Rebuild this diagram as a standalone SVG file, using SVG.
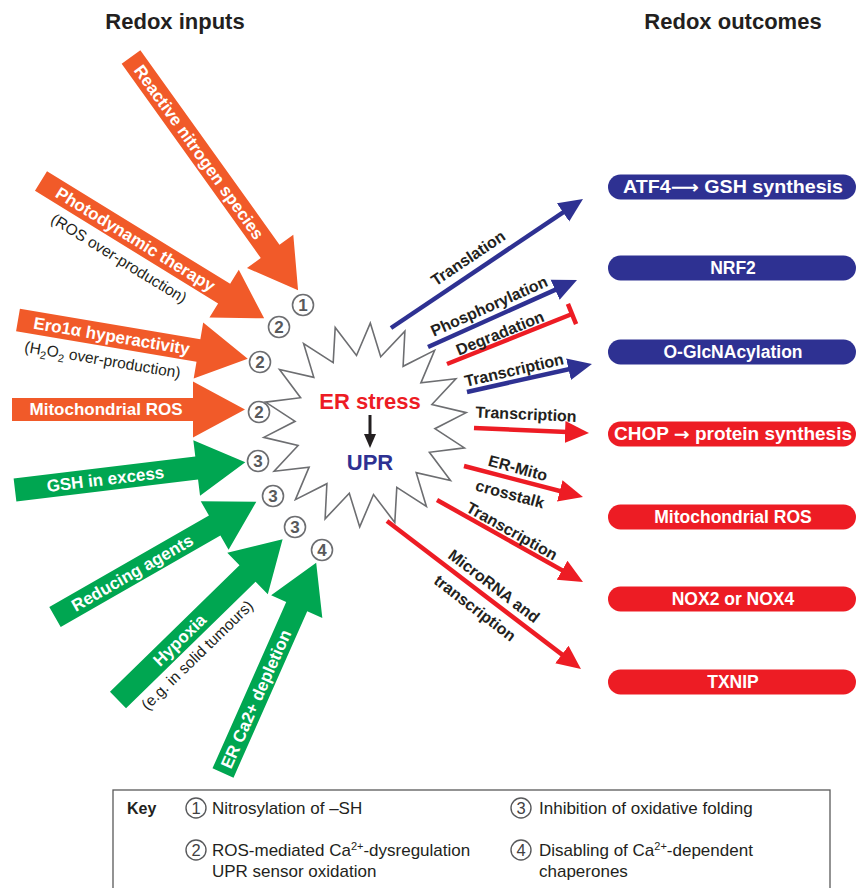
<svg xmlns="http://www.w3.org/2000/svg" width="857" height="888" viewBox="0 0 857 888">
<style>
text{font-family:"Liberation Sans",Arial,sans-serif}
.org{fill:#F15A29}
.grn{fill:#00A651}
.lbl{fill:#fff;font-weight:bold;font-size:17px;text-anchor:middle}
.sub{fill:#231F20;font-size:15.5px;text-anchor:middle}
.title{fill:#231F20;font-weight:bold;font-size:22px;text-anchor:middle}
.num circle{fill:#fff;stroke:#6D6E71;stroke-width:1.6}
.num text{fill:#58595B;font-weight:bold;font-size:17px;text-anchor:middle}
.pillB{fill:#2E3192}
.pillR{fill:#ED1C24}
.ptxt{fill:#fff;font-weight:bold;font-size:17.5px;text-anchor:middle}
.arr{font-family:"DejaVu Sans",sans-serif}
.lnB{stroke:#2E3192;stroke-width:4.5;fill:none}
.lnR{stroke:#ED1C24;stroke-width:4.5;fill:none}
.clbl{fill:#231F20;font-weight:bold;font-size:16px;text-anchor:middle}
.key{fill:#231F20;font-size:17px}
.kn circle{fill:#fff;stroke:#58595B;stroke-width:1.4}
.kn text{fill:#414042;font-size:16.5px;text-anchor:middle}
</style>
<defs>
<marker id="ahB" markerUnits="userSpaceOnUse" markerWidth="24" markerHeight="24" viewBox="0 0 24 24" refX="14" refY="12" orient="auto"><path d="M0,1 L24,12 L0,23 z" fill="#2E3192"/></marker>
<marker id="ahR" markerUnits="userSpaceOnUse" markerWidth="24" markerHeight="24" viewBox="0 0 24 24" refX="14" refY="12" orient="auto"><path d="M0,1 L24,12 L0,23 z" fill="#ED1C24"/></marker>
<marker id="ahK" markerUnits="userSpaceOnUse" markerWidth="14" markerHeight="14" viewBox="0 0 14 14" refX="7" refY="7" orient="auto"><path d="M0,1 L14,7 L0,13 z" fill="#231F20"/></marker>
</defs>

<text class="title" x="175" y="29">Redox inputs</text>
<text class="title" x="733" y="29">Redox outcomes</text>

<!-- input arrows -->
<g id="in-rns" transform="translate(131,57) rotate(54.4)">
<polygon class="org" points="0,-11.5 239,-11.5 239,-28.5 287,0 239,28.5 239,11.5 0,11.5"/>
<text class="lbl" x="117" y="0" dy="0.35em">Reactive nitrogen species</text>
</g>
<g id="in-pdt" transform="translate(41,181) rotate(31.6)">
<polygon class="org" points="0,-11.5 215,-11.5 215,-28 262,0 215,28 215,11.5 0,11.5"/>
<text class="lbl" x="111" y="0" dy="0.35em">Photodynamic therapy</text>
<text class="sub" x="107" y="25" dy="0.35em">(ROS over-production)</text>
</g>
<g id="in-ero" transform="translate(18,320) rotate(9.6)">
<polygon class="org" points="0,-11.5 183,-11.5 183,-28.5 233,0 183,28.5 183,11.5 0,11.5"/>
<text class="lbl" x="95" y="0" dy="0.35em">Ero1α hyperactivity</text>
<text class="sub" x="90" y="25" dy="0.35em">(H<tspan font-size="11" dy="4">2</tspan><tspan dy="-4">O</tspan><tspan font-size="11" dy="4">2</tspan><tspan dy="-4"> over-production)</tspan></text>
</g>
<g id="in-mros" transform="translate(12,409.5)">
<polygon class="org" points="0,-11.5 181,-11.5 181,-28 233,0 181,28 181,11.5 0,11.5"/>
<text class="lbl" x="94" y="0" dy="0.35em">Mitochondrial ROS</text>
</g>
<g id="in-gsh" transform="translate(15,490) rotate(-6.9)">
<polygon class="grn" points="0,-11.5 183,-11.5 183,-28 232,0 183,28 183,11.5 0,11.5"/>
<text class="lbl" x="91" y="0" dy="0.35em">GSH in excess</text>
</g>
<g id="in-red" transform="translate(55,617) rotate(-29.8)">
<polygon class="grn" points="0,-11.5 184,-11.5 184,-28 232,0 184,28 184,11.5 0,11.5"/>
<text class="lbl" x="89" y="0" dy="0.35em">Reducing agents</text>
</g>
<g id="in-hyp" transform="translate(118,700) rotate(-44.3)">
<polygon class="grn" points="0,-11.5 181,-11.5 181,-29 230,0 181,29 181,11.5 0,11.5"/>
<text class="lbl" x="86" y="0" dy="0.35em">Hypoxia</text>
<text class="sub" x="88" y="23" dy="0.35em">(e.g. in solid tumours)</text>
</g>
<g id="in-ca" transform="translate(223,773) rotate(-66.1)">
<polygon class="grn" points="0,-11.5 182,-11.5 182,-28 230,0 182,28 182,11.5 0,11.5"/>
<text class="lbl" x="81" y="0" dy="0.35em">ER Ca2+ depletion</text>
</g>

<!-- ER stress star -->
<g id="er-stress">
<polygon points="370.3,323.1 380.7,356.8 404.9,331.1 403.1,366.3 434.6,350.4 420.9,382.9 455.9,378.7 431.9,404.5 466.2,412.6 434.9,428.7 464.4,447.9 429.4,452.3 450.5,480.5 416.2,472.7 426.4,506.5 396.8,487.4 394.8,522.5 373.5,494.5 359.7,526.9 349.3,493.2 325.1,518.9 326.9,483.7 295.4,499.6 309.1,467.1 274.1,471.3 298.1,445.5 263.8,437.4 295.1,421.3 265.6,402.1 300.6,397.7 279.5,369.5 313.8,377.3 303.6,343.5 333.2,362.6 335.2,327.5 356.5,355.5" fill="#fff" stroke="#6D6E71" stroke-width="1.6" stroke-linejoin="miter"/>
<text x="370" y="409" fill="#ED1C24" font-weight="bold" font-size="22" text-anchor="middle">ER stress</text>
<line x1="370" y1="415" x2="370" y2="441" stroke="#231F20" stroke-width="3" marker-end="url(#ahK)"/>
<text x="370" y="470" fill="#2E3192" font-weight="bold" font-size="22" text-anchor="middle">UPR</text>
</g>

<!-- numbered mechanisms -->
<g id="nums" class="num">
<g><circle cx="303" cy="305" r="10.5"/><text x="303" y="311">1</text></g>
<g><circle cx="279" cy="327" r="10.5"/><text x="279" y="333">2</text></g>
<g><circle cx="260" cy="362" r="10.5"/><text x="260" y="368">2</text></g>
<g><circle cx="259" cy="412" r="10.5"/><text x="259" y="418">2</text></g>
<g><circle cx="258" cy="461" r="10.5"/><text x="258" y="467">3</text></g>
<g><circle cx="273" cy="496" r="10.5"/><text x="273" y="502">3</text></g>
<g><circle cx="295" cy="527" r="10.5"/><text x="295" y="533">3</text></g>
<g><circle cx="322" cy="550" r="10.5"/><text x="322" y="556">4</text></g>
</g>

<!-- connectors -->
<g id="connectors">
<line class="lnB" x1="391" y1="328" x2="574.7" y2="204.6" marker-end="url(#ahB)"/>
<line class="lnB" x1="428" y1="347" x2="567.9" y2="284.1" marker-end="url(#ahB)"/>
<line class="lnR" x1="447" y1="364" x2="572" y2="314"/>
<line class="lnR" x1="567.9" y1="303.8" x2="576.1" y2="324.2"/>
<line class="lnB" x1="467" y1="392" x2="582.2" y2="366.2" marker-end="url(#ahB)"/>
<line class="lnR" x1="474" y1="428" x2="579" y2="432.6" marker-end="url(#ahR)"/>
<line class="lnR" x1="464" y1="466" x2="573.3" y2="494.5" marker-end="url(#ahR)"/>
<line class="lnR" x1="437" y1="500" x2="574.3" y2="577.1" marker-end="url(#ahR)"/>
<line class="lnR" x1="387" y1="521" x2="573" y2="662.9" marker-end="url(#ahR)"/>
<text class="clbl" transform="translate(468,258) rotate(-33.9)" dy="0.35em">Translation</text>
<text class="clbl" transform="translate(489,306) rotate(-24)" dy="0.35em">Phosphorylation</text>
<text class="clbl" transform="translate(500,333) rotate(-22)" dy="0.35em">Degradation</text>
<text class="clbl" transform="translate(514,370) rotate(-13)" dy="0.35em">Transcription</text>
<text class="clbl" transform="translate(526,414) rotate(2.5)" dy="0.35em">Transcription</text>
<text class="clbl" transform="translate(518,468) rotate(15)" dy="0.35em">ER-Mito</text>
<text class="clbl" transform="translate(510,494) rotate(15)" dy="0.35em">crosstalk</text>
<text class="clbl" transform="translate(512,531) rotate(29.3)" dy="0.35em">Transcription</text>
<text class="clbl" transform="translate(494,586) rotate(37.3)" dy="0.35em">MicroRNA and</text>
<text class="clbl" transform="translate(475,608) rotate(37.3)" dy="0.35em">transcription</text>
</g>

<!-- outcomes -->
<g id="out-atf4"><rect class="pillB" x="608" y="174.5" width="248" height="25" rx="12.5"/><text class="ptxt" x="733" y="193.2" textLength="220" lengthAdjust="spacingAndGlyphs">ATF4<tspan class="arr">⟶</tspan> GSH synthesis</text></g>
<g id="out-nrf2"><rect class="pillB" x="608" y="255.5" width="248" height="25" rx="12.5"/><text class="ptxt" x="733" y="274.2">NRF2</text></g>
<g id="out-oglc"><rect class="pillB" x="608" y="339.5" width="248" height="25" rx="12.5"/><text class="ptxt" x="733" y="358.2">O-GlcNAcylation</text></g>
<g id="out-chop"><rect class="pillR" x="608" y="421.5" width="248" height="25" rx="12.5"/><text class="ptxt" x="733" y="440.2" textLength="238" lengthAdjust="spacingAndGlyphs">CHOP <tspan class="arr">→</tspan> protein synthesis</text></g>
<g id="out-mros"><rect class="pillR" x="608" y="504.5" width="248" height="25" rx="12.5"/><text class="ptxt" x="733" y="523.2">Mitochondrial ROS</text></g>
<g id="out-nox"><rect class="pillR" x="608" y="586.5" width="248" height="25" rx="12.5"/><text class="ptxt" x="733" y="605.2">NOX2 or NOX4</text></g>
<g id="out-txnip"><rect class="pillR" x="608" y="669.5" width="248" height="25" rx="12.5"/><text class="ptxt" x="733" y="688.2">TXNIP</text></g>

<!-- key -->
<g id="key">
<rect x="113" y="790" width="717" height="120" fill="none" stroke="#595959" stroke-width="1.3"/>
<text x="127" y="814" fill="#231F20" font-weight="bold" font-size="16">Key</text>
<g class="kn"><circle cx="196" cy="808" r="10"/><text x="196" y="814">1</text></g>
<text class="key" x="212" y="814">Nitrosylation of –SH</text>
<g class="kn"><circle cx="521" cy="808" r="10"/><text x="521" y="814">3</text></g>
<text class="key" x="539" y="814">Inhibition of oxidative folding</text>
<g class="kn"><circle cx="196" cy="850" r="10"/><text x="196" y="856">2</text></g>
<text class="key" x="212" y="856">ROS-mediated Ca<tspan font-size="11" dy="-6">2+</tspan><tspan dy="6">-dysregulation</tspan></text>
<text class="key" x="212" y="877">UPR sensor oxidation</text>
<g class="kn"><circle cx="521" cy="850" r="10"/><text x="521" y="856">4</text></g>
<text class="key" x="539" y="856">Disabling of Ca<tspan font-size="11" dy="-6">2+</tspan><tspan dy="6">-dependent</tspan></text>
<text class="key" x="539" y="877">chaperones</text>
</g>
</svg>
